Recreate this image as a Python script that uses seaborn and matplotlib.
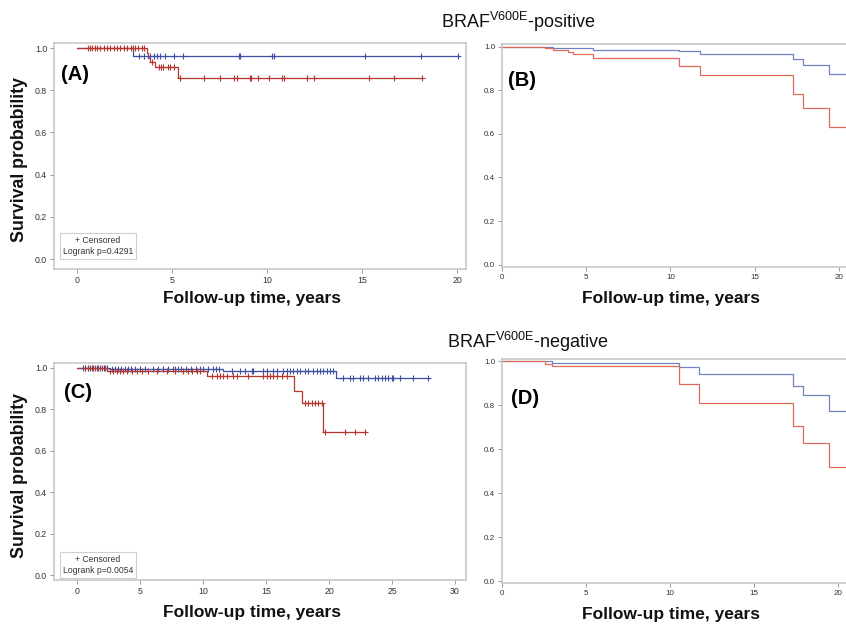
import numpy as np
import matplotlib
matplotlib.use("Agg")
import matplotlib.pyplot as plt
from matplotlib import font_manager
import seaborn as sns

sns.set_theme(style="white")
plt.rcParams['font.family'] = ['Liberation Sans', 'DejaVu Sans']
plt.rcParams['mathtext.fontset'] = 'custom'
plt.rcParams['mathtext.rm'] = 'Liberation Sans'

# ---------------- data ----------------
# Panel A (BRAF V600E-positive, KM with censoring)
A_blue_t = [0, 2.95, 20.1]
A_blue_s = [1.0, 0.964, 0.964]
A_red_t = [0, 3.68, 3.75, 3.84, 4.1, 5.3, 18.16]
A_red_s = [1.0, 0.977, 0.955, 0.932, 0.91, 0.86, 0.86]
A_blue_cens = [3.25, 3.54, 3.86, 4.07, 4.21, 4.39, 4.65, 5.09, 5.58, 8.51, 8.56,
               10.26, 10.35, 15.14, 18.09, 20.05]
A_red_cens = [0.56, 0.67, 0.79, 0.93, 1.05, 1.23, 1.4, 1.58, 1.75, 1.93, 2.1, 2.28,
              2.46, 2.63, 2.84, 2.95, 3.07, 3.2, 3.42, 3.54, 3.95, 4.3, 4.4, 4.55,
              4.8, 4.9, 5.1, 5.4, 6.67, 7.54, 8.25, 8.4, 9.1, 9.17, 9.5, 10.1, 10.8,
              10.88, 12.1, 12.45, 15.35, 16.7, 18.15]

# Panel B (BRAF V600E-positive, adjusted curves)
B_blue_t = [0, 3.0, 4.3, 5.4, 10.5, 11.75, 17.28, 17.87, 19.4, 21.6]
B_blue_s = [1.0, 0.995, 0.991, 0.986, 0.979, 0.967, 0.944, 0.917, 0.875, 0.875]
B_red_t = [0, 2.55, 3.05, 3.93, 4.22, 5.4, 10.5, 11.75, 17.28, 17.87, 19.4, 21.6]
B_red_s = [1.0, 0.992, 0.986, 0.974, 0.965, 0.947, 0.909, 0.868, 0.784, 0.72, 0.633, 0.633]

# Panel C (BRAF V600E-negative, KM with censoring)
C_blue_t = [0, 2.6, 11.6, 20.55, 27.9]
C_blue_s = [1.0, 0.995, 0.985, 0.953, 0.953]
C_red_t = [0, 2.35, 10.3, 17.2, 17.85, 19.5, 22.9]
C_red_s = [1.0, 0.987, 0.96, 0.89, 0.83, 0.69, 0.69]
C_blue_cens = [0.5, 0.65, 0.85, 1.0, 1.3, 1.6, 1.85, 2.1, 2.4,
               2.75, 2.98, 3.25, 3.5, 3.78, 4.04, 4.3, 4.57, 4.97, 5.37, 6.03, 6.43,
               6.83, 7.22, 7.62, 7.75, 8.0, 8.28, 8.68, 9.07, 9.47, 9.74, 10.0, 10.4,
               10.8, 11.06, 11.3,
               12.27, 12.94, 13.33, 13.86, 14.0, 14.79, 15.05, 15.58, 15.85, 16.38,
               16.64, 16.9, 17.17, 17.43, 17.7, 18.1, 18.36, 18.76, 19.02, 19.29,
               19.55, 19.8, 20.08, 20.34,
               21.14, 21.67, 21.93, 22.46, 22.73, 23.12, 23.65, 23.92, 24.18, 24.45,
               24.71, 24.97, 25.1, 25.64, 26.7, 27.88]
C_red_cens = [0.63, 0.9, 1.16, 1.43, 1.69, 1.96, 2.22,
              2.62, 2.88, 3.15, 3.41, 3.68, 3.94, 4.34, 4.73, 5.13, 5.66, 6.32, 7.12,
              7.78, 8.44, 8.84, 9.1, 9.5, 9.76,
              10.69, 11.08, 11.35, 11.61, 11.88, 12.41, 12.67, 13.6, 14.79, 15.05,
              15.32, 15.58, 15.85, 16.24, 16.64,
              18.1, 18.36, 18.63, 18.89, 19.15, 19.42,
              19.69, 21.28, 22.07, 22.87]

# Panel D (BRAF V600E-negative, adjusted curves)
D_blue_t = [0, 2.96, 10.5, 11.73, 17.27, 17.87, 19.46, 21.6]
D_blue_s = [1.0, 0.995, 0.976, 0.945, 0.89, 0.848, 0.775, 0.775]
D_red_t = [0, 2.56, 2.96, 10.53, 11.73, 17.27, 17.87, 19.46, 21.6]
D_red_s = [1.0, 0.989, 0.977, 0.896, 0.813, 0.704, 0.63, 0.52, 0.52]

y_ticks = [0.0, 0.2, 0.4, 0.6, 0.8, 1.0]
x_ticks_20 = [0, 5, 10, 15, 20]
x_ticks_30 = [0, 5, 10, 15, 20, 25, 30]

panel_labels = ["(A)", "(B)", "(C)", "(D)"]
titles = [r"BRAF$^{\mathrm{V600E}}$-positive", r"BRAF$^{\mathrm{V600E}}$-negative"]
xlabel = "Follow-up time, years"
ylabel = "Survival probability"
legend_A = "+ Censored\nLogrank p=0.4291"
legend_C = "+ Censored\nLogrank p=0.0054"

# ---------------- styling ----------------
W, H = 846, 624
BLUE_D, RED_D = '#3d50a2', '#b5362c'
BLUE_L, RED_L = '#7482c2', '#e06a5e'
FRAME = '#c4c4c4'
TICKC = '#333333'

available = {f.name for f in font_manager.fontManager.ttflist}
if 'Liberation Sans Narrow' in available:
    TITLE_FAMILY, TITLE_SIZE = 'Liberation Sans Narrow', 15
    plt.rcParams['mathtext.rm'] = 'Liberation Sans Narrow'
else:
    TITLE_FAMILY, TITLE_SIZE = 'Liberation Sans', 13

fig = plt.figure(figsize=(W / 100, H / 100), dpi=100)
fig.patch.set_facecolor('white')


def add_ax(l, t, r, b):
    return fig.add_axes([l / W, 1 - b / H, (r - l) / W, (b - t) / H])


def fx(px):
    return px / W


def fy(py):
    return 1 - py / H


def step_at(ts, ss, times):
    ts = np.asarray(ts)
    ss = np.asarray(ss)
    idx = np.searchsorted(ts, np.asarray(times), side='right') - 1
    return ss[idx]


def style_ax(ax, xlim, ylim, xticks, labelsize):
    ax.set_xlim(*xlim)
    ax.set_ylim(*ylim)
    ax.set_xticks(xticks)
    ax.set_yticks(y_ticks)
    ax.set_xticklabels([str(v) for v in xticks])
    ax.set_yticklabels([f"{v:.1f}" for v in y_ticks])
    for side, sp in ax.spines.items():
        sp.set_color(FRAME)
        sp.set_linewidth(1.1)
        sp.set_visible(True)
    ax.tick_params(axis='both', which='major', direction='out', length=3, width=0.7,
                   color='#999999', labelsize=labelsize, labelcolor=TICKC, pad=2,
                   bottom=True, left=True, top=False, right=False)
    ax.set_xlabel('')
    ax.set_ylabel('')
    ax.grid(False)
    ax.set_facecolor('white')


def km(ax, t, s, color, lw=0.9):
    sns.lineplot(x=t, y=s, drawstyle='steps-post', estimator=None, sort=False,
                 color=color, linewidth=lw, ax=ax, legend=False)


def cens(ax, t, s, times, color):
    sns.scatterplot(x=times, y=step_at(t, s, times), marker='+', s=16, color=color,
                    linewidth=0.8, ax=ax, legend=False, zorder=3)


# Panel A
axA = add_ax(54, 43, 466, 269)
km(axA, A_blue_t, A_blue_s, BLUE_D)
km(axA, A_red_t, A_red_s, RED_D)
cens(axA, A_blue_t, A_blue_s, A_blue_cens, BLUE_D)
cens(axA, A_red_t, A_red_s, A_red_cens, RED_D)
style_ax(axA, (-1.21, 20.47), (-0.047, 1.024), x_ticks_20, 6.3)

# Panel B
axB = add_ax(502, 44, 860, 267)
km(axB, B_blue_t, B_blue_s, BLUE_L)
km(axB, B_red_t, B_red_s, RED_L)
style_ax(axB, (0, 21.25), (-0.0105, 1.0115), x_ticks_20, 5.8)

# Panel C
axC = add_ax(54, 363, 466, 580)
km(axC, C_blue_t, C_blue_s, BLUE_D)
km(axC, C_red_t, C_red_s, RED_D)
cens(axC, C_blue_t, C_blue_s, C_blue_cens, BLUE_D)
cens(axC, C_red_t, C_red_s, C_red_cens, RED_D)
style_ax(axC, (-1.83, 30.87), (-0.024, 1.024), x_ticks_30, 6.3)

# Panel D
axD = add_ax(502, 359, 860, 583)
km(axD, D_blue_t, D_blue_s, BLUE_L)
km(axD, D_red_t, D_red_s, RED_L)
style_ax(axD, (0, 21.28), (-0.008, 1.011), x_ticks_20, 5.8)

# Panel labels
for lab, (px, py) in zip(panel_labels, [(75, 74), (522, 80), (78, 393), (525, 398)]):
    fig.text(fx(px), fy(py), lab, ha='center', va='center', fontsize=14.5,
             fontweight='bold', color='black')

# Titles
fig.text(fx(518), fy(28), titles[0], ha='center', va='baseline', fontsize=TITLE_SIZE,
         family=TITLE_FAMILY, color='#111111')
fig.text(fx(528), fy(348), titles[1], ha='center', va='baseline', fontsize=TITLE_SIZE,
         family=TITLE_FAMILY, color='#111111')

# Axis labels
for px, py in [(252, 298), (671, 298), (252, 612), (671, 614)]:
    fig.text(fx(px), fy(py), xlabel, ha='center', va='center', fontsize=12.5,
             fontweight='bold', color='#111111')
for px, py in [(20, 160), (19, 476)]:
    fig.text(fx(px), fy(py), ylabel, ha='center', va='center', fontsize=12.8,
             fontweight='bold', rotation=90, color='#111111')

# Legend boxes
for px, py, txt in [(98, 246, legend_A), (98, 565, legend_C)]:
    fig.text(fx(px), fy(py), txt, ha='center', va='center', multialignment='center',
             fontsize=6.2, color='#333333', linespacing=1.35,
             bbox=dict(boxstyle='square,pad=0.35', fc='white', ec='#cfcfcf', lw=0.8))

fig.savefig('out.png', dpi=100)
